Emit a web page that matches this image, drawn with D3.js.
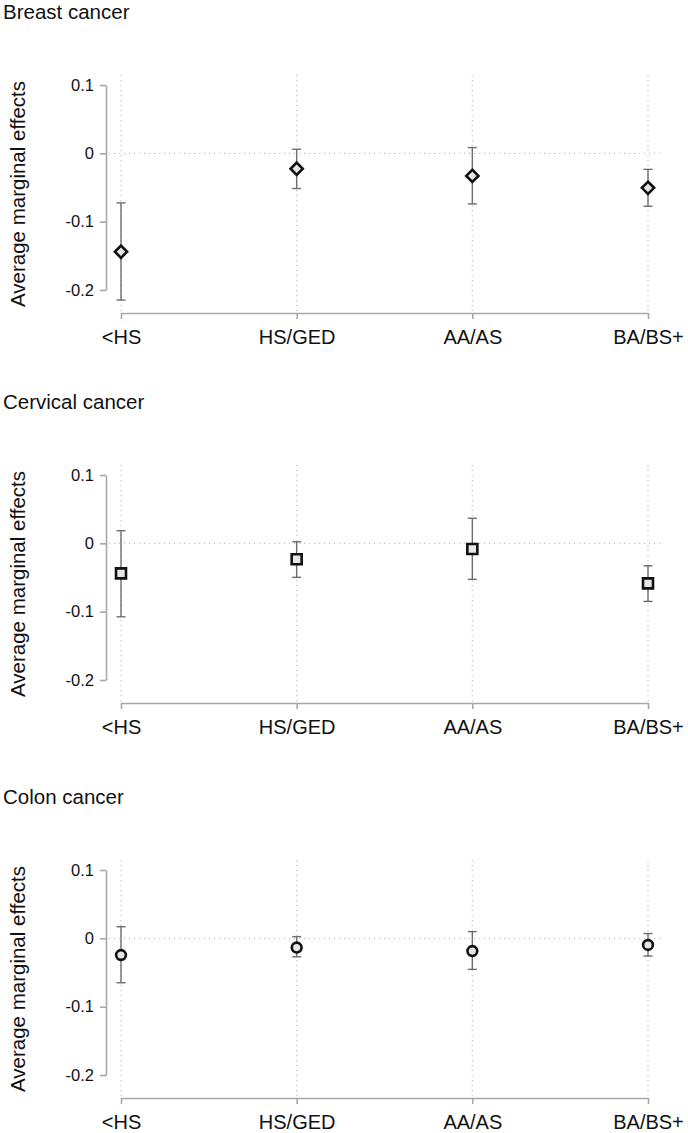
<!DOCTYPE html>
<html>
<head>
<meta charset="utf-8">
<script src="https://cdn.jsdelivr.net/npm/d3@7"></script>
<style>
  body { margin: 0; background: #fff; }
  svg { display: block; font-family: "Liberation Sans", Arial, sans-serif; }
</style>
</head>
<body>
<div id="chart"></div>
<script>
const categories = ["<HS", "HS/GED", "AA/AS", "BA/BS+"];
const yTicks = [0.1, 0, -0.1, -0.2];

const panelTitles = ["Breast cancer", "Cervical cancer", "Colon cancer"];

// point estimates and confidence bounds per panel
const breastEst = [-0.144, -0.0225, -0.033, -0.0505];
const breastLo  = [-0.2147, -0.0515, -0.074, -0.0775];
const breastHi  = [-0.0725, 0.006, 0.0084, -0.0235];

const cervicalEst = [-0.044, -0.0234, -0.0083, -0.0586];
const cervicalLo  = [-0.1075, -0.0498, -0.0527, -0.085];
const cervicalHi  = [0.0185, 0.0023, 0.0366, -0.0328];

const colonEst = [-0.0244, -0.0135, -0.0186, -0.0097];
const colonLo  = [-0.065, -0.027, -0.0454, -0.0259];
const colonHi  = [0.017, 0.0025, 0.0098, 0.007];

const width = 688, height = 1133;
const panelOffsets = [0, 390, 785];
const markerShapes = [d3.symbolDiamond2, d3.symbolSquare, d3.symbolCircle];
const markerSizes = [95, 100, 75];

const panels = [
  {title: panelTitles[0], est: breastEst, lo: breastLo, hi: breastHi},
  {title: panelTitles[1], est: cervicalEst, lo: cervicalLo, hi: cervicalHi},
  {title: panelTitles[2], est: colonEst, lo: colonLo, hi: colonHi}
];

const svg = d3.select("#chart").append("svg")
  .attr("width", width)
  .attr("height", height);

svg.append("rect").attr("width", width).attr("height", height).attr("fill", "#fff");

const x = d3.scalePoint().domain(categories).range([121, 648]);

panels.forEach((p, i) => {
  const oy = panelOffsets[i];
  const g = svg.append("g").attr("transform", "translate(0," + oy + ")");
  const y = d3.scaleLinear().domain([-0.2, 0.1]).range([290, 85]);
  const rows = categories.map((c, j) => ({cat: c, est: p.est[j], lo: p.lo[j], hi: p.hi[j]}));

  // title
  g.append("text")
    .attr("x", 3).attr("y", 19)
    .attr("font-size", 20.5)
    .attr("fill", "#111")
    .text(p.title);

  // y axis title
  g.append("text")
    .attr("transform", "translate(25,194) rotate(-90)")
    .attr("text-anchor", "middle")
    .attr("font-size", 20.5)
    .attr("fill", "#111")
    .text("Average marginal effects");

  // vertical dotted grid
  g.selectAll(".vgrid").data(categories).enter()
    .append("line")
    .attr("x1", d => x(d)).attr("x2", d => x(d))
    .attr("y1", 75).attr("y2", 313)
    .attr("stroke", "#c4c4c4")
    .attr("stroke-width", 1.2)
    .attr("stroke-dasharray", "1.2,3.8");

  // zero reference line
  g.append("line")
    .attr("x1", 109).attr("x2", 661)
    .attr("y1", y(0)).attr("y2", y(0))
    .attr("stroke", "#c4c4c4")
    .attr("stroke-width", 1.2)
    .attr("stroke-dasharray", "1.2,3.8");

  // y axis
  const yAxis = g.append("g")
    .attr("transform", "translate(106,0)")
    .call(d3.axisLeft(y).tickValues(yTicks).tickSize(6).tickSizeOuter(0).tickPadding(6)
      .tickFormat(d => String(d)));
  yAxis.select(".domain").attr("stroke", "#a8a8a8").attr("stroke-width", 1.6);
  yAxis.selectAll(".tick line").attr("stroke", "#a8a8a8").attr("stroke-width", 1.6);
  yAxis.selectAll(".tick text").attr("font-size", 16.5).attr("fill", "#111")
    .attr("font-family", "Liberation Sans, Arial, sans-serif");

  // x axis
  const xAxis = g.append("g")
    .attr("transform", "translate(0,313)")
    .call(d3.axisBottom(x).tickSize(6).tickSizeOuter(0).tickPadding(11));
  xAxis.select(".domain").attr("stroke", "#a8a8a8").attr("stroke-width", 1.6);
  xAxis.selectAll(".tick line").attr("stroke", "#a8a8a8").attr("stroke-width", 1.6);
  xAxis.selectAll(".tick text").attr("font-size", 20).attr("fill", "#111")
    .attr("font-family", "Liberation Sans, Arial, sans-serif");

  // error bars
  const bars = g.selectAll(".bar").data(rows).enter().append("g")
    .attr("stroke", "#6e6e6e").attr("stroke-width", 1.4);
  bars.append("line")
    .attr("x1", d => x(d.cat)).attr("x2", d => x(d.cat))
    .attr("y1", d => y(d.lo)).attr("y2", d => y(d.hi));
  bars.append("line")
    .attr("x1", d => x(d.cat) - 4.5).attr("x2", d => x(d.cat) + 4.5)
    .attr("y1", d => y(d.lo)).attr("y2", d => y(d.lo));
  bars.append("line")
    .attr("x1", d => x(d.cat) - 4.5).attr("x2", d => x(d.cat) + 4.5)
    .attr("y1", d => y(d.hi)).attr("y2", d => y(d.hi));

  // markers
  const sym = d3.symbol().type(markerShapes[i]).size(markerSizes[i]);
  g.selectAll(".pt").data(rows).enter()
    .append("path")
    .attr("d", sym)
    .attr("transform", d => "translate(" + x(d.cat) + "," + y(d.est) + ")")
    .attr("fill", "#e6e6e6")
    .attr("stroke", "#111")
    .attr("stroke-width", 2.6);
});
</script>
</body>
</html>
